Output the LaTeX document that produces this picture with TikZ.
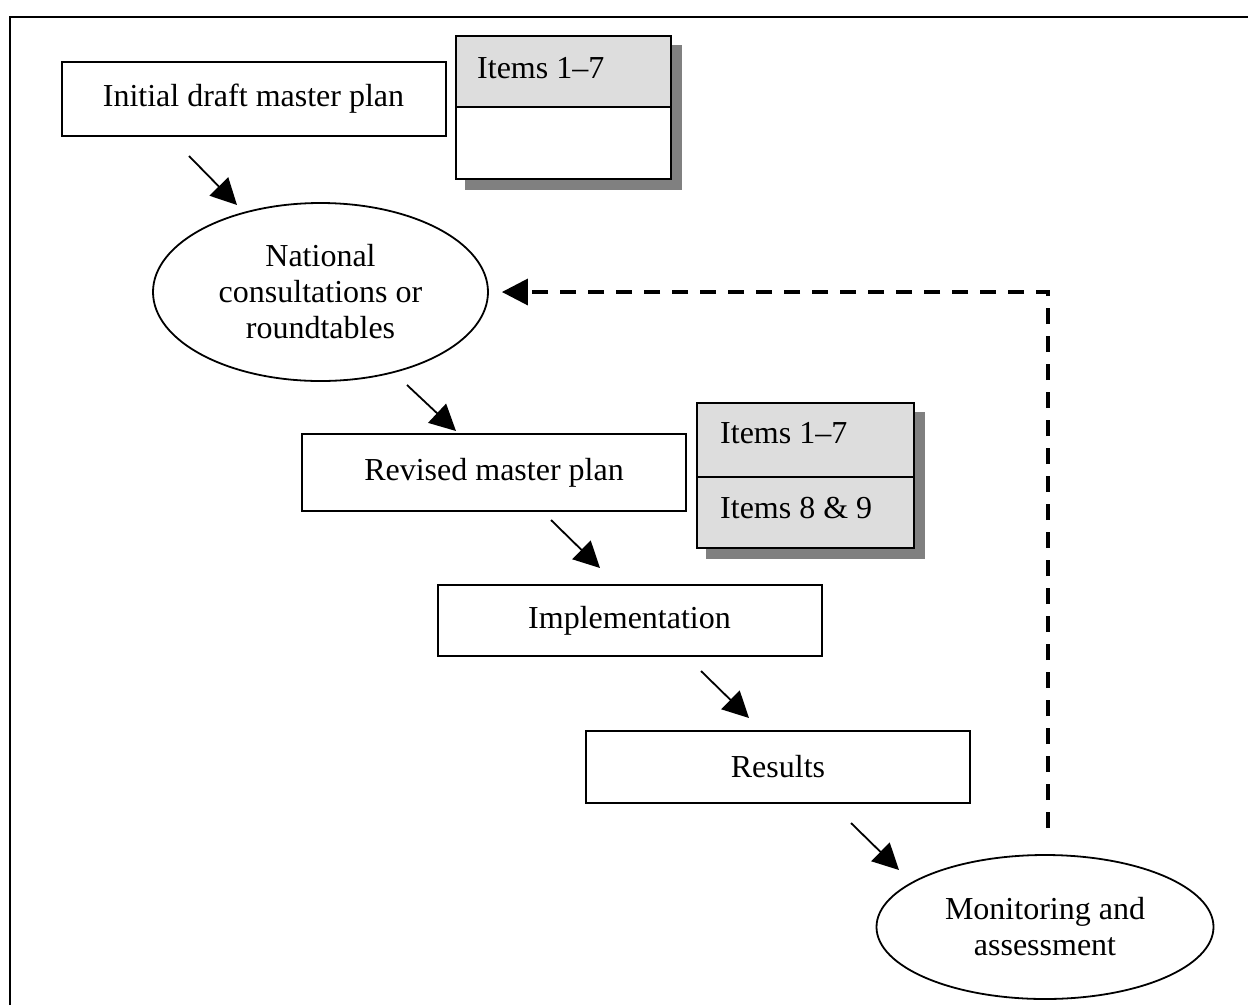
\documentclass[tikz,border=0pt]{standalone}
\usepackage{fontspec}
\setmainfont{Liberation Serif}
\definecolor{cellgray}{RGB}{221, 221, 221}
\definecolor{shadegray}{RGB}{128, 128, 128}
\usetikzlibrary{shapes.geometric, arrows.meta, calc, backgrounds}

\begin{document}
\begin{tikzpicture}[x=1pt, y=-1pt,
  planbox/.style={draw, line width=2pt, fill=white, minimum width=384pt, minimum height=74pt, inner sep=0pt, font=\fontsize{32}{37}\selectfont},
  stagenode/.style={draw, ellipse, line width=1.8pt, fill=white, inner sep=0pt, align=center, font=\fontsize{32}{36}\selectfont},
  itemcell/.style={draw, line width=2pt, inner sep=0pt},
  itemtext/.style={anchor=base west, inner sep=0pt, font=\fontsize{32}{37}\selectfont},
  flow/.style={-{Triangle[length=26pt, width=26pt]}, line width=1.8pt},
  feedback/.style={-{Triangle[length=26pt, width=26pt]}, line width=3.5pt, dash pattern=on 16pt off 12pt}]

  \useasboundingbox (0,0) rectangle (1248,1005);

  % Frame
  \draw[line width=2.5pt] (10,1005) -- (10,17) -- (1248,17);

  % Initial draft
  \node[planbox] (initial) at (253.5,98.5) {Initial draft master plan};

  \node[itemcell, fill=cellgray, minimum width=215pt, minimum height=71pt] (listA1) at (563.5,71.5) {};
  \node[itemcell, fill=white, minimum width=215pt, minimum height=72pt] (listA2) at (563.5,143) {};
  \node[itemtext] (listA1txt) at (477,78) {Items 1–7};

  % National consultations
  \node[stagenode, minimum width=335pt, minimum height=178pt] (natl) at (320.5,292) {National\\consultations or\\roundtables};

  % Revised plan
  \node[planbox, minimum height=77pt] (revised) at (494,472.5) {Revised master plan};

  \node[itemcell, fill=cellgray, minimum width=217pt, minimum height=74pt] (listB1) at (805.5,440) {};
  \node[itemcell, fill=cellgray, minimum width=217pt, minimum height=71pt] (listB2) at (805.5,512.5) {};
  \node[itemtext] (listB1txt) at (720,443) {Items 1–7};
  \node[itemtext] (listB2txt) at (720,518) {Items 8 \& 9};

  % Implementation and results
  \node[planbox, minimum height=71pt] (implement) at (629.5,620.5) {Implementation};
  \node[planbox, minimum height=72pt] (results) at (778,767) {Results};

  % Monitoring
  \node[stagenode, minimum width=337pt, minimum height=144pt] (monitor) at (1045,927) {Monitoring and\\assessment};

  % Shadows
  \begin{scope}[on background layer]
    \fill[shadegray] ($(listA1.north west)+(10,10)$) rectangle ($(listA2.south east)+(10,10)$);
    \fill[shadegray] ($(listB1.north west)+(10,10)$) rectangle ($(listB2.south east)+(10,10)$);
  \end{scope}

  % Flow arrows
  \coordinate (initout) at (189,156);
  \coordinate (natlin) at (237,205);
  \coordinate (natlout) at (407,385);
  \coordinate (revin) at (456,431);
  \coordinate (revout) at (551,520);
  \coordinate (impin) at (600,568);
  \coordinate (impout) at (701,671);
  \coordinate (resin) at (749,718);
  \coordinate (resout) at (851,823);
  \coordinate (monin) at (899,870);
  \coordinate (fbk) at (1048,828);

  \draw[flow] (initout) -- (natlin);
  \draw[flow] (natlout) -- (revin);
  \draw[flow] (revout) -- (impin);
  \draw[flow] (impout) -- (resin);
  \draw[flow] (resout) -- (monin);

  % Feedback loop
  \draw[feedback, shorten >=13pt] (fbk) |- (natl.east);
\end{tikzpicture}
\end{document}
